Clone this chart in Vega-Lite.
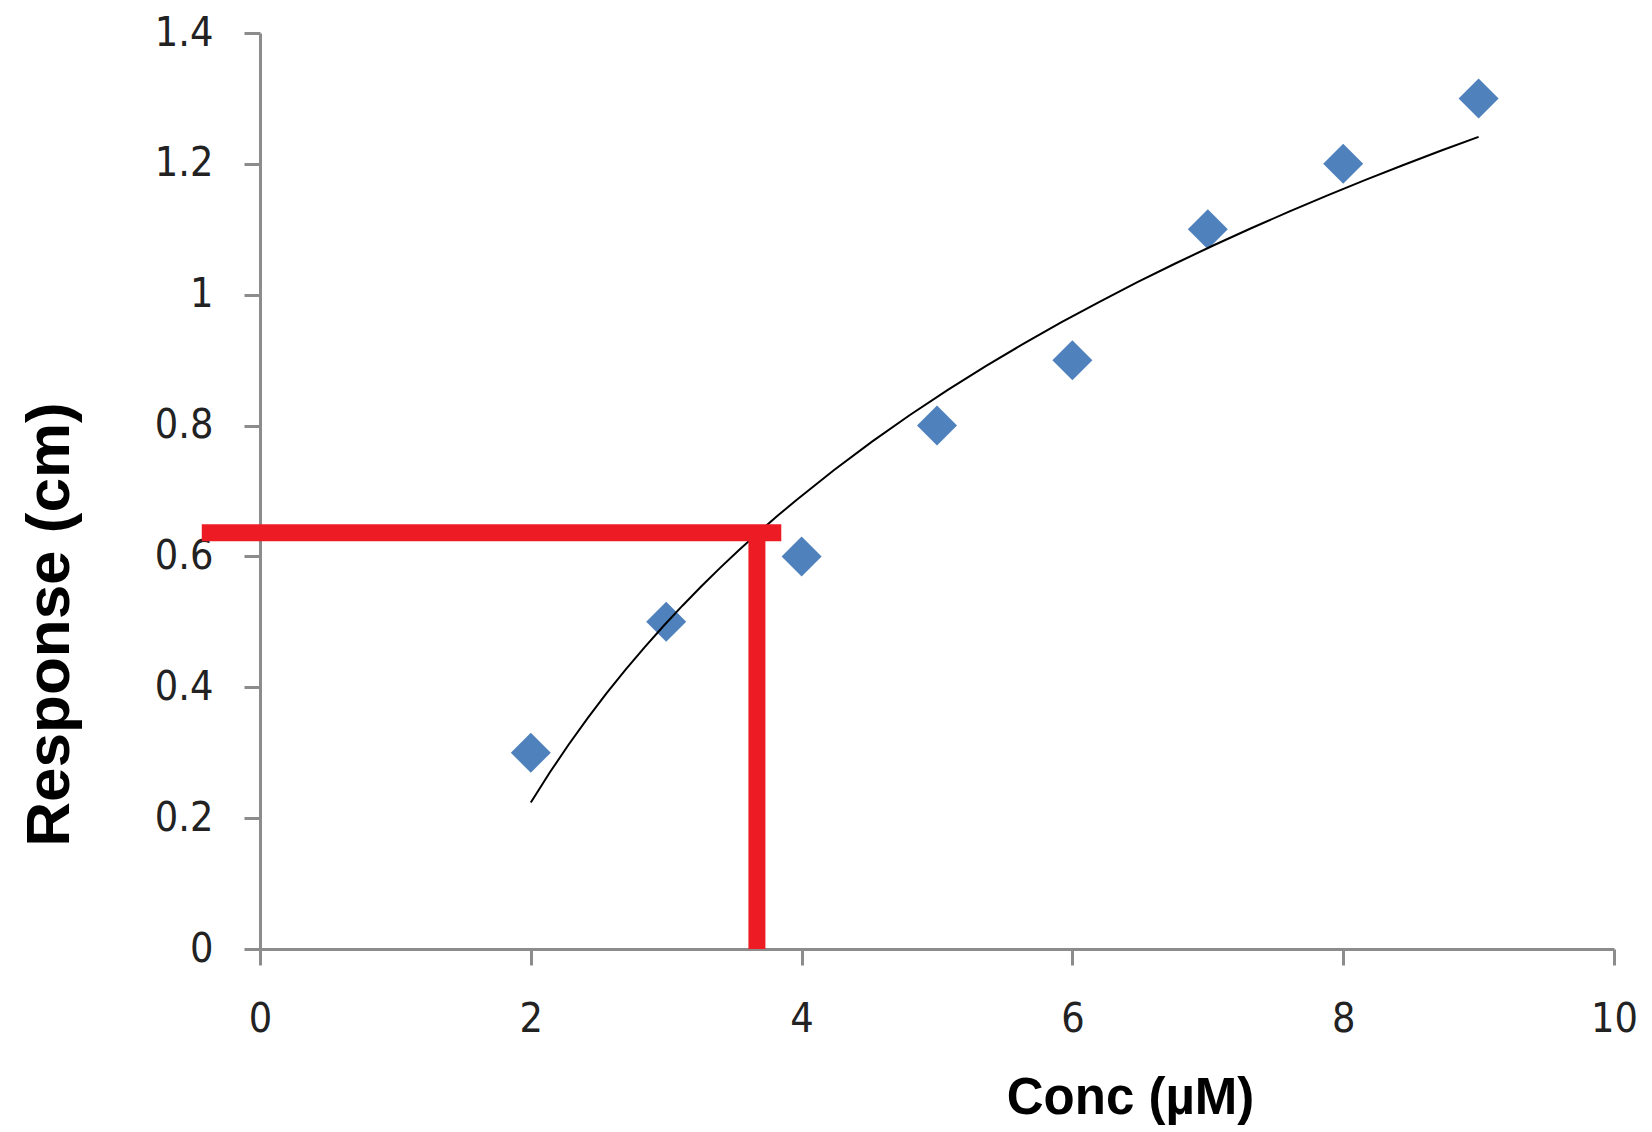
{
  "$schema": "https://vega.github.io/schema/vega-lite/v6.json",
  "width": 1354,
  "height": 916,
  "autosize": {"type": "none"},
  "padding": {"left": 260, "top": 33, "right": 38, "bottom": 183},
  "background": "white",
  "config": {
    "view": {"stroke": null},
    "axis": {
      "grid": false,
      "labelFlush": false,
      "labelOverlap": false,
      "domainColor": "#8c8c8c",
      "domainWidth": 3,
      "tickColor": "#8c8c8c",
      "tickWidth": 3,
      "tickSize": 16,
      "labelFont": "DejaVu Sans Condensed, Liberation Sans",
      "labelFontSize": 41,
      "labelColor": "#222222",
      "titleFont": "Liberation Sans",
      "titleFontWeight": "bold",
      "titleColor": "#000000"
    }
  },
  "datasets": {
    "points": [
      {"conc": 2, "resp": 0.3},
      {"conc": 3, "resp": 0.5},
      {"conc": 4, "resp": 0.6},
      {"conc": 5, "resp": 0.8},
      {"conc": 6, "resp": 0.9},
      {"conc": 7, "resp": 1.1},
      {"conc": 8, "resp": 1.2},
      {"conc": 9, "resp": 1.3}
    ],
    "guides": [
      {"x": -0.43, "x2": 3.85, "y": 0.636, "y2": 0.636},
      {"x": 3.67, "x2": 3.67, "y": 0, "y2": 0.636}
    ]
  },
  "layer": [
    {
      "data": {"name": "points"},
      "mark": {"type": "point", "shape": "diamond", "filled": true, "size": 1600, "color": "#4F81BD", "opacity": 1},
      "encoding": {
        "x": {
          "field": "conc", "type": "quantitative",
          "scale": {"domain": [0, 10], "nice": false, "zero": false},
          "axis": {
            "values": [0, 2, 4, 6, 8, 10],
            "format": "~g",
            "labelPadding": 34,
            "title": "Conc (µM)",
            "titleFontSize": 51,
            "titleX": 870,
            "titleY": 164,
            "titleAlign": "center",
            "titleBaseline": "alphabetic",
            "titleAnchor": null
          }
        },
        "y": {
          "field": "resp", "type": "quantitative",
          "scale": {"domain": [0, 1.4], "nice": false, "zero": false},
          "axis": {
            "values": [0, 0.2, 0.4, 0.6, 0.8, 1, 1.2, 1.4],
            "format": "~g",
            "labelPadding": 31,
            "title": "Response (cm)",
            "titleFontSize": 62,
            "titleAngle": -90,
            "titleX": -192,
            "titleY": 591,
            "titleAlign": "center",
            "titleBaseline": "alphabetic",
            "titleAnchor": null
          }
        }
      }
    },
    {
      "data": {"name": "points"},
      "transform": [
        {"regression": "resp", "on": "conc", "method": "log", "extent": [2, 9]}
      ],
      "mark": {"type": "line", "color": "#000000", "strokeWidth": 2},
      "encoding": {
        "x": {"field": "conc", "type": "quantitative"},
        "y": {"field": "resp", "type": "quantitative"}
      }
    },
    {
      "data": {"name": "guides"},
      "mark": {"type": "rule", "color": "#ED1C24", "strokeWidth": 17, "strokeCap": "butt"},
      "encoding": {
        "x": {"field": "x", "type": "quantitative"},
        "x2": {"field": "x2"},
        "y": {"field": "y", "type": "quantitative"},
        "y2": {"field": "y2"}
      }
    }
  ]
}
